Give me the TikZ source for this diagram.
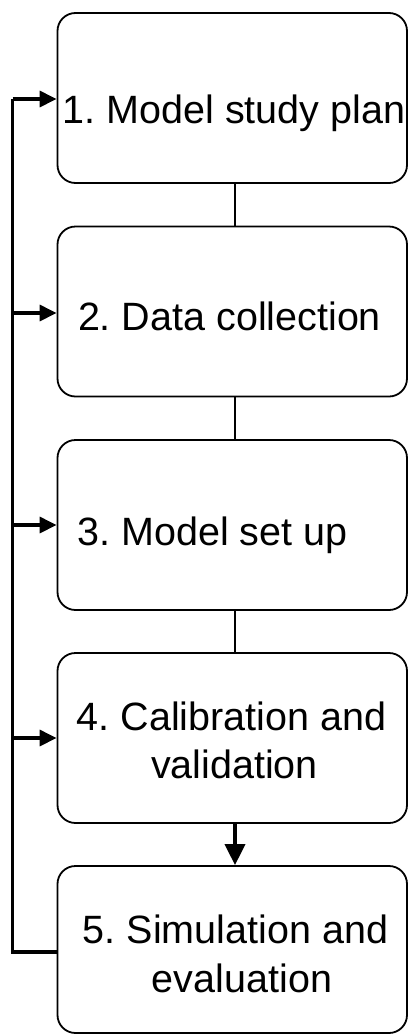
\documentclass[tikz,border=0pt]{standalone}
\usepackage{fontspec}
\setmainfont{Liberation Sans}
\usetikzlibrary{arrows.meta}
\frenchspacing
\begin{document}
\begin{tikzpicture}[x=1pt,y=-1pt,
  box/.style={draw, line width=1.8pt, rounded corners=18pt, minimum width=349.5pt, minimum height=170pt, inner sep=0pt},
  lbl/.style={anchor=base, font=\fontsize{39.5}{48}\selectfont, inner sep=0pt},
  fb/.style={line width=3.3pt},
  link/.style={line width=1.6pt},
  tip/.style={-{Triangle[length=17pt,width=16pt]}},
  bigtip/.style={-{Triangle[length=21pt,width=20pt]}}]
\useasboundingbox (0,0) rectangle (408,1034);
% boxes
\node[box] (b1) at (232.25,98) {};
\node[box] (b2) at (232.25,311.5) {};
\node[box] (b3) at (232.25,525) {};
\node[box] (b4) at (232.25,738) {};
\node[box, minimum height=167pt] (b5) at (232.25,949.5) {};
% labels
\node[lbl] (t1) at (234,123) {1. Model study plan};
\node[lbl] (t2) at (229.5,330) {2. Data collection};
\node[lbl] (t3) at (212.5,545) {3. Model set up};
\node[lbl] (t4a) at (231.5,730) {4. Calibration and};
\node[lbl] (t4b) at (234.5,778) {validation};
\node[lbl] (t5a) at (235.5,943) {5. Simulation and};
\node[lbl] (t5b) at (242,992) {evaluation};
% connectors between boxes
\draw[link] ([xshift=2.75pt]b1.south) -- ([xshift=2.75pt]b2.north);
\draw[link] ([xshift=2.75pt]b2.south) -- ([xshift=2.75pt]b3.north);
\draw[link] ([xshift=2.75pt]b3.south) -- ([xshift=2.75pt]b4.north);
\draw[line width=3.8pt, bigtip] ([xshift=2.75pt]b4.south) -- ([xshift=2.75pt]b5.north);
% feedback loop
\coordinate (c5) at (12.7,952);
\coordinate (c1) at (12.7,99);
\coordinate (c2) at (12.7,313);
\coordinate (c3) at (12.7,525);
\coordinate (c4) at (12.7,738);
\draw[fb] (c5 -| b5.west) -- (c5) -- (c1);
\draw[fb, tip] (c1) -- (c1 -| b1.west);
\draw[fb, tip] (c2) -- (c2 -| b2.west);
\draw[fb, tip] (c3) -- (c3 -| b3.west);
\draw[fb, tip] (c4) -- (c4 -| b4.west);
\end{tikzpicture}
\end{document}
